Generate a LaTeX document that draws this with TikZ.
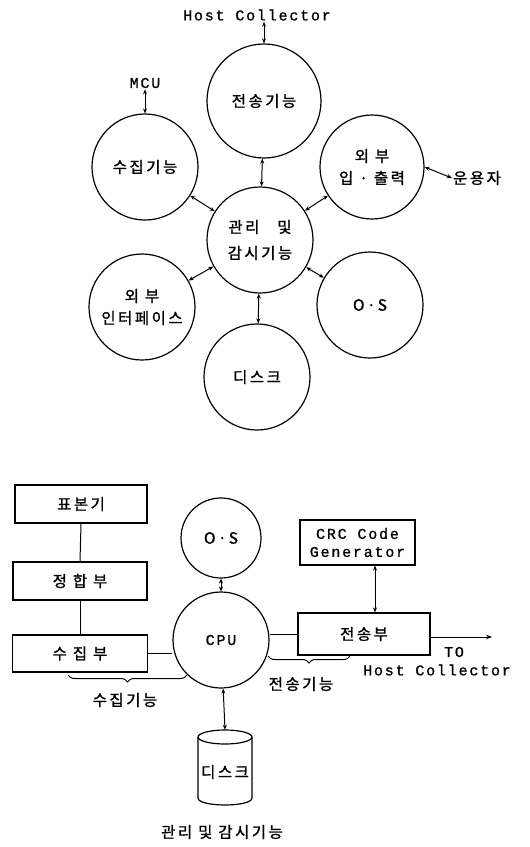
\documentclass[tikz,border=0pt]{standalone}
\usepackage{fontspec}
\newfontfamily\kr[LetterSpace=16,FakeBold=1.2]{Noto Sans CJK KR}
\newfontfamily\mono[LetterSpace=12,FakeBold=1]{Liberation Mono}
\usetikzlibrary{arrows.meta,decorations.pathreplacing,calc}
\begin{document}
\begin{tikzpicture}[x=1pt,y=-1pt,
  krfont/.style={font=\kr\fontsize{15.5}{20}\selectfont},
  monofont/.style={font=\mono\fontsize{15}{18}\selectfont},
  bub/.style={circle,draw,line width=1.2pt,inner sep=0pt,align=center,krfont},
  box/.style={rectangle,draw,line width=1.2pt,inner sep=0pt,align=center,krfont},
  lbl/.style={krfont,inner sep=1pt},
  mlbl/.style={monofont,inner sep=1pt},
  conn/.style={line width=1pt,{Stealth[length=5pt,width=4pt]}-{Stealth[length=5pt,width=4pt]}},
  ln/.style={line width=1pt},
  arr/.style={line width=1pt,-{Stealth[length=6pt,width=4.5pt]}},
  brc/.style={decorate,decoration={brace,amplitude=7pt},line width=1pt}]
\useasboundingbox (0,0) rectangle (530,847);

% ---------- top diagram ----------
\node[bub,minimum size=114pt] (ts) at (264,101) {전송기능};
\node[bub,minimum size=106pt] (sj) at (145,167) {수집기능};
\node[bub,minimum size=104pt] (io) at (372,167) {외 부\\[2pt]입 · 출력};
\node[bub,minimum size=106pt] (mg) at (260,240) {관리 \ \ 및\\[6pt]감시기능};
\node[bub,minimum size=106pt] (ext) at (142,307) {외 부\\[2pt]인터페이스};
\node[bub,minimum size=106pt] (os) at (370,305) {O·S};
\node[bub,minimum size=106pt] (dk) at (257,377) {디스크};

\node[mlbl] (hc1) at (257,15) {Host Collector};
\node[mlbl] (mcu) at (145,83) {MCU};
\node[lbl] (op) at (477,178) {운용자};

\draw[conn] (ts.north) -- (ts.north |- hc1.south);
\draw[conn] (sj.north) -- (mcu.south);
\draw[conn] (io.east) -- (op.west);
\draw[conn] (mg) -- (ts);
\draw[conn] (mg) -- (sj);
\draw[conn] (mg) -- (io);
\draw[conn] (mg) -- (ext);
\draw[conn] (mg) -- (os);
\draw[conn] (mg) -- (dk);

% ---------- bottom diagram ----------
\node[box,minimum width=132pt,minimum height=38pt] (pb) at (81,504) {표본기};
\node[box,minimum width=134pt,minimum height=38pt] (jh) at (80,581) {정 합 부};
\node[box,minimum width=135pt,minimum height=37pt] (sb) at (80,653.5) {수 집 부};
\node[bub,minimum size=80pt] (os2) at (221,538) {O·S};
\node[bub,minimum size=96pt,monofont] (cpu) at (221,640) {CPU};
\node[box,minimum width=115pt,minimum height=45pt,monofont] (crc) at (357.5,542.5) {CRC Code\\Generator};
\node[box,minimum width=132pt,minimum height=42pt] (jsb) at (364,634) {전송부};
\node[mlbl] (to) at (454,652) {TO};
\node[mlbl] (hc2) at (437,670) {Host Collector};
\coordinate (hcend) at (492,637);

% disk cylinder
\node[minimum width=54pt,minimum height=75pt,inner sep=0pt] (disk) at (225,767.5) {};
\node[lbl] (disklbl) at (225,772) {디스크};
\draw[ln,line width=1.2pt] (225,737) ellipse [x radius=27, y radius=7];
\draw[ln,line width=1.2pt] (198,737) -- (198,798) .. controls (198,807.3) and (252,807.3) .. (252,798) -- (252,737);

\draw[ln] (pb.south) -- (jh.north);
\draw[ln] (jh.south) -- (sb.north);
\draw[ln] (sb.east) -- (sb.east -| cpu.west);
\draw[ln] (jsb.west) -- (jsb.west -| cpu.east);
\draw[conn] (os2) -- (cpu);
\draw[conn] (crc.south -| 375,0) -- (jsb.north -| 375,0);
\draw[conn] (cpu) -- (disk.north);
\draw[arr] (jsb.east |- hcend) -- (hcend);

\draw[brc] (187,675) -- (68,675);
\draw[brc] (350,656) -- (268,656);
\node[lbl] (sjf) at (125,700) {수집기능};
\node[lbl] (tsf) at (301,684) {전송기능};
\node[lbl] (mgf) at (222,832) {관리 및 감시기능};
\end{tikzpicture}
\end{document}
